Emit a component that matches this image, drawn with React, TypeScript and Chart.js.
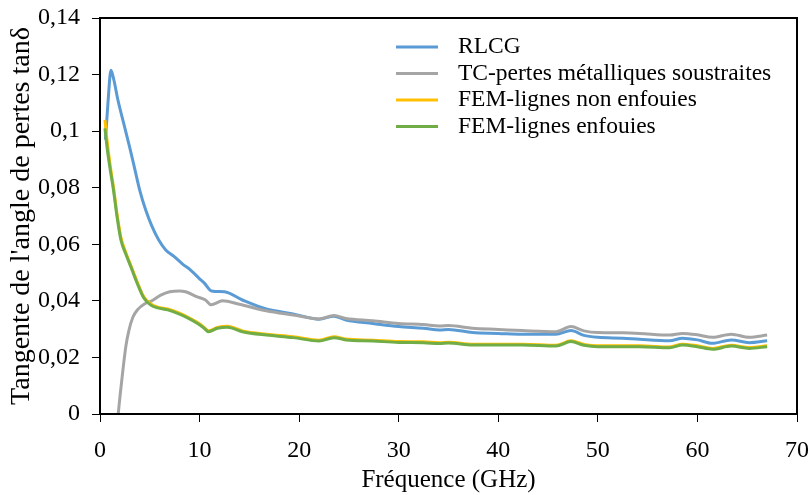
import React, { useEffect, useRef } from "react";
import { Chart, registerables } from "chart.js";

Chart.register(...registerables);

const FONT = "'Liberation Serif', 'Times New Roman', serif";

// Frequencies (GHz) and loss tangent values
const rlcgFreq = [0.55, 0.8, 1.1, 1.4, 1.8, 2.4, 3.0, 3.5, 4.0, 4.6, 5.2, 5.9, 6.6, 7.4, 8.3, 9.1, 10.0, 10.5, 11.2, 12.5, 14.3, 16.7, 19.4, 22.0, 23.5, 24.7, 27.4, 30.0, 32.5, 34.1, 35.0, 37.4, 40.0, 42.4, 45.8, 47.3, 48.6, 50.0, 52.5, 54.2, 57.2, 58.5, 60.0, 61.5, 63.4, 65.2, 67.0];
const rlcgTan = [0.097, 0.110, 0.1215, 0.118, 0.111, 0.1025, 0.094, 0.0865, 0.079, 0.072, 0.0665, 0.0615, 0.058, 0.0558, 0.053, 0.0509, 0.0478, 0.0462, 0.0435, 0.0432, 0.0403, 0.0371, 0.0354, 0.0335, 0.0346, 0.0332, 0.0320, 0.0309, 0.0303, 0.0297, 0.0299, 0.0288, 0.0285, 0.0282, 0.0282, 0.0295, 0.0278, 0.0271, 0.0268, 0.0264, 0.0259, 0.0268, 0.0262, 0.0250, 0.0262, 0.0252, 0.0259];

const tcFreq = [1.83, 2.0, 2.3, 2.6, 2.9, 3.3, 3.8, 4.5, 5.2, 6.1, 7.0, 8.0, 8.6, 9.7, 10.6, 11.15, 12.3, 14.0, 16.7, 19.4, 22.0, 23.5, 24.7, 27.4, 30.0, 32.5, 34.1, 35.0, 37.4, 40.0, 42.4, 45.8, 47.3, 48.6, 50.0, 52.5, 54.2, 57.2, 58.5, 60.0, 61.5, 63.4, 65.2, 67.0];
const tcTan = [0, 0.006, 0.0155, 0.024, 0.0295, 0.0342, 0.037, 0.039, 0.040, 0.042, 0.0432, 0.0435, 0.0432, 0.0415, 0.0403, 0.0386, 0.0400, 0.0388, 0.0365, 0.0350, 0.0336, 0.0348, 0.0338, 0.0330, 0.0320, 0.0316, 0.0311, 0.0313, 0.0303, 0.0299, 0.0295, 0.0291, 0.0309, 0.0294, 0.0288, 0.0287, 0.0285, 0.0279, 0.0285, 0.0280, 0.0271, 0.0282, 0.0271, 0.0279];

const femFreq = [0.5, 0.7, 1.0, 1.36, 1.7, 2.1, 2.6, 3.1, 3.7, 4.4, 5.1, 5.8, 6.8, 7.8, 8.8, 9.8, 10.4, 10.9, 11.8, 12.8, 14.3, 16.7, 19.4, 22.0, 23.5, 24.7, 27.4, 30.0, 32.5, 34.1, 35.0, 37.4, 40.0, 42.4, 45.8, 47.3, 48.6, 50.0, 52.5, 54.2, 57.2, 58.5, 60.0, 61.5, 63.4, 65.2, 67.0];
const femNonEnfouiesTan = [0.104, 0.097, 0.0885, 0.080, 0.071, 0.0625, 0.057, 0.0525, 0.047, 0.0414, 0.0389, 0.0378, 0.0371, 0.0359, 0.0343, 0.0323, 0.0308, 0.0294, 0.0306, 0.0310, 0.0294, 0.0282, 0.0273, 0.0261, 0.0273, 0.0265, 0.0261, 0.0256, 0.0255, 0.0252, 0.0254, 0.0247, 0.0247, 0.0247, 0.0243, 0.0259, 0.0246, 0.0241, 0.0241, 0.0241, 0.0237, 0.0247, 0.0241, 0.0232, 0.0243, 0.0235, 0.0241];
const femEnfouiesTan = [0.101, 0.0945, 0.087, 0.079, 0.070, 0.0615, 0.0565, 0.052, 0.0465, 0.041, 0.0385, 0.0375, 0.0368, 0.0356, 0.034, 0.032, 0.0305, 0.0291, 0.0303, 0.0307, 0.0291, 0.0279, 0.0270, 0.0258, 0.0270, 0.0262, 0.0258, 0.0253, 0.0252, 0.0249, 0.0251, 0.0244, 0.0244, 0.0244, 0.0240, 0.0256, 0.0243, 0.0238, 0.0238, 0.0238, 0.0234, 0.0244, 0.0238, 0.0229, 0.0240, 0.0232, 0.0238];

const seriesLabels = ["RLCG", "TC-pertes métalliques soustraites", "FEM-lignes non enfouies", "FEM-lignes enfouies"];
const seriesColors = ["#5B9BD5", "#A5A5A5", "#FFC000", "#70AD47"];

const xTitle = "Fréquence (GHz)";
const yTitle = "Tangente de l'angle de pertes tanδ";
const xMin = 0, xMax = 70, xStep = 10;
const yMin = 0, yMax = 0.14, yStep = 0.02;

const toPoints = (xs: number[], ys: number[]) => xs.map((x, i) => ({ x, y: ys[i] }));

const framePlugin = {
  id: "frame",
  afterDatasetsDraw(chart: any) {
    const { ctx, chartArea } = chart;
    const { left, top, right, bottom } = chartArea;
    ctx.save();
    ctx.strokeStyle = "#000";
    ctx.lineWidth = 2;
    ctx.strokeRect(left, top, right - left, bottom - top);
    ctx.restore();
  },
};

const insideLegendPlugin = {
  id: "insideLegend",
  afterDraw(chart: any) {
    const { ctx, chartArea } = chart;
    const lineX0 = chartArea.left + 296;
    const lineX1 = chartArea.left + 338;
    const textX = chartArea.left + 358;
    const rowY0 = chartArea.top + 29;
    const rowGap = 26.5;
    ctx.save();
    ctx.font = `23.5px ${FONT}`;
    ctx.textBaseline = "middle";
    ctx.fillStyle = "#000";
    seriesLabels.forEach((label, i) => {
      const y = rowY0 + i * rowGap;
      ctx.strokeStyle = seriesColors[i];
      ctx.lineWidth = 3;
      ctx.beginPath();
      ctx.moveTo(lineX0, y);
      ctx.lineTo(lineX1, y);
      ctx.stroke();
      ctx.fillText(label, textX, y);
    });
    ctx.restore();
  },
};

export default function App() {
  const canvasRef = useRef<HTMLCanvasElement | null>(null);

  useEffect(() => {
    document.body.style.margin = "0";
    const canvas = canvasRef.current;
    if (!canvas) return;
    const mk = (i: number, data: { x: number; y: number }[], order: number) => ({
      label: seriesLabels[i],
      data,
      borderColor: seriesColors[i],
      backgroundColor: seriesColors[i],
      borderWidth: 3,
      pointRadius: 0,
      cubicInterpolationMode: "monotone" as const,
      fill: false,
      order,
    });
    const chart = new Chart(canvas, {
      type: "line",
      data: {
        datasets: [
          mk(0, toPoints(rlcgFreq, rlcgTan), 3),
          mk(1, toPoints(tcFreq, tcTan), 2),
          mk(2, toPoints(femFreq, femNonEnfouiesTan), 1),
          mk(3, toPoints(femFreq, femEnfouiesTan), 0),
        ],
      },
      options: {
        responsive: false,
        animation: false,
        layout: { padding: { top: 18, right: 13, left: 0, bottom: 0 } },
        plugins: {
          legend: { display: false },
          tooltip: { enabled: false },
        },
        scales: {
          x: {
            type: "linear",
            min: xMin,
            max: xMax,
            afterFit: (scale: any) => {
              scale.height = 81;
              scale.paddingLeft = 0;
              scale.paddingRight = 0;
            },
            ticks: {
              stepSize: xStep,
              color: "#000",
              padding: 14,
              font: { family: FONT, size: 24 },
            },
            grid: { drawOnChartArea: false, drawTicks: true, tickLength: 8, color: "#000", lineWidth: 1 },
            border: { display: true, color: "#000", width: 2 },
            title: {
              display: true,
              text: xTitle,
              color: "#000",
              font: { family: FONT, size: 25 },
              padding: { top: 0, bottom: 0 },
            },
          },
          y: {
            type: "linear",
            min: yMin,
            max: yMax,
            afterFit: (scale: any) => {
              scale.width = 100;
              scale.paddingTop = 0;
              scale.paddingBottom = 0;
            },
            ticks: {
              stepSize: yStep,
              color: "#000",
              padding: 12,
              font: { family: FONT, size: 24 },
              callback: (v: any) => parseFloat(Number(v).toFixed(2)).toString().replace(".", ","),
            },
            grid: { drawOnChartArea: false, drawTicks: true, tickLength: 8, color: "#000", lineWidth: 1 },
            border: { display: true, color: "#000", width: 2 },
            title: {
              display: true,
              text: yTitle,
              color: "#000",
              font: { family: FONT, size: 28 },
              padding: { top: 5, bottom: 0 },
            },
          },
        },
      },
      plugins: [framePlugin, insideLegendPlugin],
    });
    return () => chart.destroy();
  }, []);

  return (
    <div style={{ width: 810, height: 495 }}>
      <canvas ref={canvasRef} width={810} height={495} />
    </div>
  );
}
